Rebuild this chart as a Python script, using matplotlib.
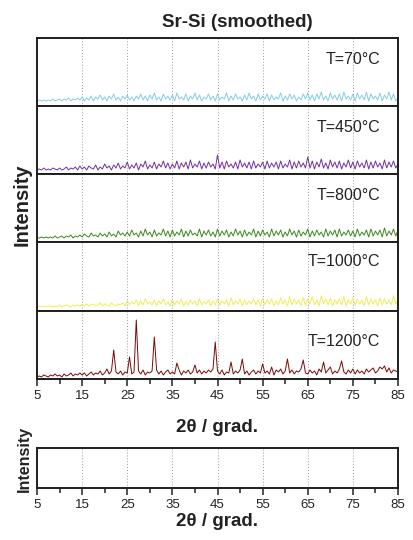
import numpy as np
import matplotlib
matplotlib.use("Agg")
import matplotlib.pyplot as plt

plt.rcParams['font.family'] = ['Liberation Sans', 'DejaVu Sans']

two_theta = np.arange(5.0, 85.01, 0.5)

labels = ["T=70°C", "T=450°C", "T=800°C", "T=1000°C", "T=1200°C"]
colors = ["#86cde3", "#7330a0", "#3f861f", "#eeee55", "#7a0a0a"]

i_70 = [5,6,5,6,5,6,5,7,5,6,7,5,7,6,8,5,7,6,8,6,
        9,5,8,6,10,5,9,7,11,6,9,5,10,7,12,6,9,5,10,7,
        11,6,9,5,10,7,12,6,10,5,11,7,13,6,9,5,12,7,10,6,
        11,5,13,7,9,6,12,5,10,7,13,6,11,5,9,7,12,6,10,5,
        12,6,9,7,13,5,10,6,12,7,9,5,11,6,13,7,10,5,12,6,
        10,7,12,5,11,6,9,7,13,5,10,6,12,7,11,5,9,6,12,7,
        13,6,11,5,12,7,14,6,10,5,13,7,11,6,12,5,14,7,10,6,
        12,5,13,7,11,6,14,5,12,7,10,6,13,5,11,7,14,6,12,5,
        8]

i_450 = [4,5,4,6,4,5,4,6,5,4,6,4,5,7,4,6,5,7,4,8,
         5,7,4,8,6,5,9,4,7,5,10,6,8,4,9,6,11,5,8,6,
         12,5,9,6,11,4,10,7,13,5,9,6,12,5,10,7,13,6,11,5,
         10,6,13,5,11,7,12,5,14,6,10,7,13,5,11,6,12,7,10,5,
         19,6,12,5,13,7,10,6,12,5,14,7,11,6,12,5,13,6,10,7,
         12,5,13,6,11,7,12,5,13,6,10,7,14,5,12,6,13,7,11,6,
         17,6,13,5,12,7,15,6,11,5,14,7,12,6,13,5,11,7,14,6,
         12,5,13,7,11,6,14,5,12,6,13,7,11,5,14,6,12,7,13,6,
         10]

i_800 = [4,4,5,4,5,4,5,4,6,4,5,6,4,6,5,7,4,6,5,7,
         5,8,6,5,9,6,7,5,9,6,8,5,10,6,8,5,11,7,9,6,
         10,6,12,7,9,5,11,6,13,7,10,5,12,6,9,7,13,6,11,5,
         12,6,10,7,13,5,11,6,12,7,9,6,13,5,11,7,12,6,10,5,
         13,6,11,7,12,5,10,6,13,7,11,5,12,6,10,7,13,5,11,6,
         12,7,10,5,13,6,11,7,12,5,10,6,13,7,11,5,12,6,10,7,
         13,5,11,6,12,7,10,5,13,6,11,7,12,5,13,6,10,7,12,6,
         11,5,13,6,10,7,12,5,13,6,11,7,12,5,14,6,11,7,13,6,
         12]

i_1000 = [4,5,4,5,4,5,5,4,5,4,6,4,5,6,5,4,6,5,6,5,
          6,5,7,5,6,7,5,6,8,5,7,6,5,8,6,5,7,6,8,5,
          10,6,9,7,11,5,10,6,12,7,9,6,11,5,10,7,12,6,9,5,
          11,6,10,7,12,5,9,6,11,7,10,5,12,6,9,7,11,5,10,6,
          12,6,10,7,11,5,13,6,10,7,12,5,11,6,10,7,12,6,11,5,
          13,6,11,7,12,5,10,6,13,7,11,5,14,6,12,7,11,5,13,6,
          12,7,14,6,11,5,15,7,12,6,13,5,11,7,12,6,14,5,11,7,
          13,6,12,7,11,5,14,6,12,7,11,5,13,6,12,7,11,6,15,7,
          12]

i_1200 = [2,3,2,4,3,2,4,3,5,3,4,2,5,3,4,6,3,5,4,6,
          4,6,3,5,7,4,6,5,8,4,6,10,5,8,29,7,5,8,4,7,
          6,22,5,7,59,8,5,9,4,7,6,8,42,9,5,8,4,7,9,5,
          7,5,16,9,4,8,6,9,5,7,14,6,9,5,8,6,9,7,10,37,
          8,5,9,4,7,6,17,5,8,6,9,20,5,8,4,7,9,5,8,6,
          15,6,8,5,12,4,9,7,10,5,8,20,6,9,5,8,7,10,19,6,
          5,9,6,8,4,10,7,17,6,9,12,5,8,6,10,18,7,5,9,6,
          10,5,9,6,8,5,10,7,9,11,6,8,12,10,13,7,11,6,9,8,
          7]

series = [i_70, i_450, i_800, i_1000, i_1200]

major_ticks = [5, 15, 25, 35, 45, 55, 65, 75, 85]
minor_ticks = [10, 20, 30, 40, 50, 60, 70, 80]
grid_x = [15, 25, 35, 45, 55, 65, 75]
label_y = [0.68, 0.69, 0.69, 0.72, 0.55]

fig = plt.figure(figsize=(4.13, 5.40), dpi=100)
W = 413.0
H = 540.0
left = 37 / W
width = 361 / W
tops = [38, 106, 174, 242, 311]
bots = [106, 174, 242, 311, 379]


def style_axis(ax, show_labels):
    ax.set_xlim(5, 85)
    ax.set_yticks([])
    for s in ax.spines.values():
        s.set_linewidth(1.4)
        s.set_color("#1e1e1e")
    for gx in grid_x:
        ax.axvline(gx, color="#9a9a9a", lw=0.7, ls=(0, (1, 2)), zorder=0)
    ax.set_xticks(major_ticks)
    ax.set_xticks(minor_ticks, minor=True)
    ax.tick_params(axis="x", which="major", direction="out", length=5, width=1.1,
                   colors="#222222", labelsize=9.5, pad=3)
    ax.tick_params(axis="x", which="minor", direction="out", length=3.5, width=1.1,
                   colors="#222222")
    if not show_labels:
        ax.tick_params(axis="x", which="both", length=0, labelbottom=False)


for k in range(5):
    ax = fig.add_axes([left, 1 - bots[k] / H, width, (bots[k] - tops[k]) / H])
    style_axis(ax, k == 4)
    ax.plot(two_theta, series[k], color=colors[k], lw=0.7)
    ax.set_ylim(0, 68)
    ax.text(0.95, label_y[k], labels[k], transform=ax.transAxes,
            ha="right", va="center", fontsize=11.5, color="#222222")

fig.text(237 / W, 1 - 22.5 / H, "Sr-Si (smoothed)", ha="center", va="center",
         fontsize=13.5, fontweight="bold", color="#222222")
fig.text(217 / W, 1 - 427 / H, "2θ / grad.", ha="center", va="center",
         fontsize=13.5, fontweight="bold", color="#222222")
fig.text(22.5 / W, 1 - 205 / H, "Intensity", ha="center", va="center",
         rotation=90, fontsize=14.5, fontweight="bold", color="#222222")

axb = fig.add_axes([left, 1 - 488 / H, width, 40 / H])
style_axis(axb, True)
axb.set_ylim(0, 1)
fig.text(217 / W, 1 - 522 / H, "2θ / grad.", ha="center", va="center",
         fontsize=13.5, fontweight="bold", color="#222222")
fig.text(24 / W, 1 - 459 / H, "Intensity", ha="center", va="center",
         rotation=90, fontsize=11.5, fontweight="bold", color="#222222")

fig.savefig("out.png", dpi=100)
